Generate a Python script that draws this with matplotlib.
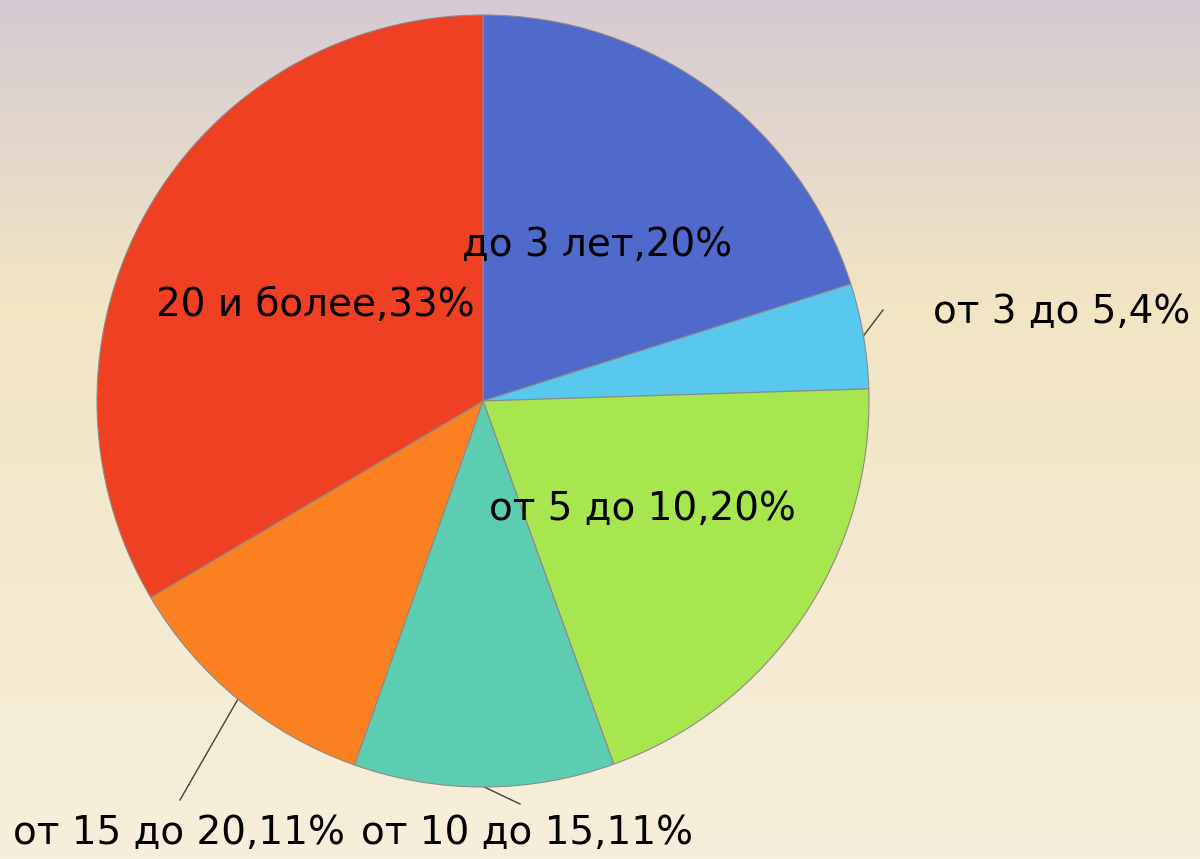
import numpy as np
import matplotlib
matplotlib.use("agg")
from matplotlib import pyplot as plt
from matplotlib.colors import LinearSegmentedColormap

# data
categories = ["до 3 лет", "от 3 до 5", "от 5 до 10", "от 10 до 15", "от 15 до 20", "20 и более"]
shares = [20.1, 4.4, 20.0, 10.9, 11.1, 33.5]
pct_labels = ["20%", "4%", "20%", "11%", "11%", "33%"]
colors = ["#4f6acb", "#58c8ef", "#a7e64f", "#5ccdb0", "#fb8021", "#ef4023"]

W, H = 1200, 859
CX, CY, R = 483, H - 401, 386

plt.rcParams['font.family'] = ['DejaVu Sans']

fig = plt.figure(figsize=(12, 8.59), dpi=100)
ax = fig.add_axes([0, 0, 1, 1])

# background gradient (purple-grey top -> cream bottom)
bg = LinearSegmentedColormap.from_list("bg", [(0, "#f7efdb"), (0.65, "#f2e5c4"),
                                              (0.76, "#e9ddc9"), (1.0, "#d6cad3")])
grad = np.linspace(0, 1, 256).reshape(-1, 1)
ax.imshow(grad, cmap=bg, extent=[0, W, 0, H], origin="lower", aspect="auto", zorder=0)

wedges, _ = ax.pie(shares, colors=colors, startangle=90, counterclock=False,
                   center=(CX, CY), radius=R, frame=True,
                   wedgeprops=dict(edgecolor="#8a8a8a", linewidth=0.8))
for w in wedges:
    w.set_zorder(2)
ax.set_xlim(0, W)
ax.set_ylim(0, H)
ax.axis("off")

fs = 28
labels = [c + "," + p for c, p in zip(categories, pct_labels)]

# inside labels at half radius on the mid angle
for i in [0, 2, 5]:
    w = wedges[i]
    mid = np.deg2rad((w.theta1 + w.theta2) / 2)
    ax.text(CX + 0.5 * R * np.cos(mid), CY + 0.5 * R * np.sin(mid), labels[i],
            ha="center", va="center", fontsize=fs, color="black", zorder=5)

# outside labels with leader lines
outside = {1: ((883, H - 310), (1062, H - 312)),
           4: ((180, H - 800), (179, H - 833)),
           3: ((520, H - 804), (527, H - 833))}
for i, (line_end, txt_pos) in outside.items():
    w = wedges[i]
    mid = np.deg2rad((w.theta1 + w.theta2) / 2)
    edge = (CX + R * np.cos(mid), CY + R * np.sin(mid))
    ax.plot([edge[0], line_end[0]], [edge[1], line_end[1]], color="#404040", lw=1, zorder=1)
    ax.text(txt_pos[0], txt_pos[1], labels[i], ha="center", va="center",
            fontsize=fs, color="black", zorder=5)

fig.savefig("out.png", dpi=100)
